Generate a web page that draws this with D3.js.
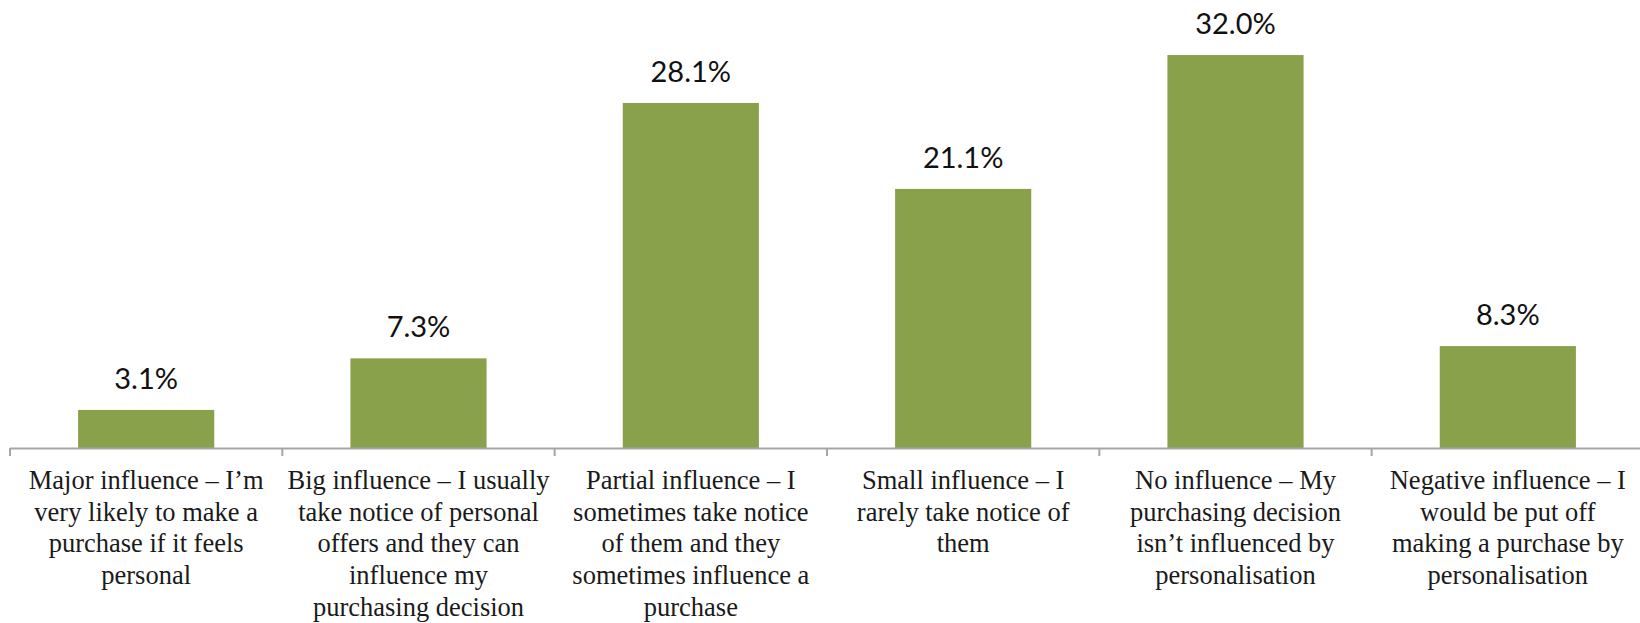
<!DOCTYPE html>
<html>
<head>
<meta charset="utf-8">
<script src="https://cdn.jsdelivr.net/npm/d3@7"></script>
<style>
  html, body { margin: 0; padding: 0; background: #ffffff; }
  svg { display: block; }
</style>
</head>
<body>
<svg id="chart" width="1640" height="623"></svg>
<script>
// ---- data ----
const categories = [
  "Major influence – I’m very likely to make a purchase if it feels personal",
  "Big influence – I usually take notice of personal offers and they can influence my purchasing decision",
  "Partial influence – I sometimes take notice of them and they sometimes influence a purchase",
  "Small influence – I rarely take notice of them",
  "No influence – My purchasing decision isn’t influenced by personalisation",
  "Negative influence – I would be put off making a purchase by personalisation"
];
const categoryLines = [
  ["Major influence – I’m", "very likely to make a", "purchase if it feels", "personal"],
  ["Big influence – I usually", "take notice of personal", "offers and they can", "influence my", "purchasing decision"],
  ["Partial influence – I", "sometimes take notice", "of them and they", "sometimes influence a", "purchase"],
  ["Small influence – I", "rarely take notice of", "them"],
  ["No influence – My", "purchasing decision", "isn’t influenced by", "personalisation"],
  ["Negative influence – I", "would be put off", "making a purchase by", "personalisation"]
];
const values = [3.1, 7.3, 28.1, 21.1, 32.0, 8.3];
const valueDomain = [0, 35];

// ---- layout ----
const svg = d3.select("#chart");
const axisY = 448;
const x = d3.scaleBand()
  .domain(categories)
  .range([10, 1644])
  .paddingInner(0.5)
  .paddingOuter(0.25);
const y = d3.scaleLinear().domain(valueDomain).range([axisY, axisY - 12.28 * 35]);

const step = x.step();
const boundary = c => x(c) - step * 0.25;

// bars
svg.append("g").selectAll("rect")
  .data(values)
  .join("rect")
  .attr("x", (d, i) => x(categories[i]))
  .attr("y", d => y(d))
  .attr("width", x.bandwidth())
  .attr("height", d => y(0) - y(d))
  .attr("fill", "#8aa14c");

// axis line + ticks at category boundaries
const axis = svg.append("g");
axis.append("line")
  .attr("x1", x.range()[0]).attr("x2", x.range()[1])
  .attr("y1", axisY + 0.5).attr("y2", axisY + 0.5)
  .attr("stroke", "#a6a6a6").attr("stroke-width", 2);
const tickXs = categories.map(boundary).concat([boundary(categories[categories.length - 1]) + step]);
axis.selectAll("line.tick")
  .data(tickXs)
  .join("line")
  .attr("class", "tick")
  .attr("x1", d => d).attr("x2", d => d)
  .attr("y1", axisY).attr("y2", axisY + 8)
  .attr("stroke", "#a6a6a6").attr("stroke-width", 2);

// data labels
svg.append("g").selectAll("text")
  .data(values)
  .join("text")
  .attr("x", (d, i) => x(categories[i]) + x.bandwidth() / 2)
  .attr("y", d => y(d) - 21)
  .attr("text-anchor", "middle")
  .attr("font-family", "Lato, 'Open Sans', sans-serif")
  .attr("font-size", 29)
  .attr("fill", "#111")
  .text(d => d.toFixed(1) + "%");

// category labels
const lab = svg.append("g").selectAll("text")
  .data(categories)
  .join("text")
  .attr("x", d => x(d) + x.bandwidth() / 2)
  .attr("y", 489)
  .attr("text-anchor", "middle")
  .attr("font-family", "'Liberation Serif', 'DejaVu Serif', serif")
  .attr("font-size", 26.5)
  .attr("fill", "#1a1a1a");
lab.each(function(d, i) {
  const t = d3.select(this);
  const cx = x(d) + x.bandwidth() / 2;
  categoryLines[i].forEach((line, j) => {
    t.append("tspan").attr("x", cx).attr("dy", j === 0 ? 0 : 31.7).text(line);
  });
});
</script>
</body>
</html>
